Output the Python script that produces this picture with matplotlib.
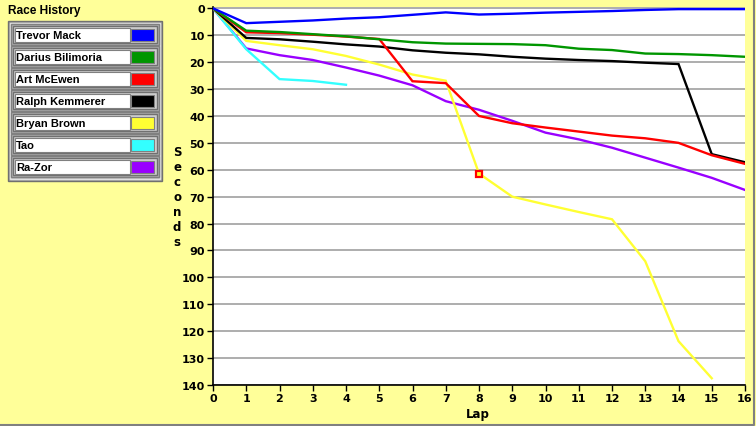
import matplotlib.pyplot as plt
from matplotlib.patches import Rectangle

laps = list(range(17))

drivers = ['Trevor Mack', 'Darius Bilimoria', 'Art McEwen', 'Ralph Kemmerer',
           'Bryan Brown', 'Tao', 'Ra-Zor']
colors = ['#0000FF', '#009600', '#FF0000', '#000000', '#FFFF33', '#33FFFF', '#9900FF']

trevor = [0, 5.5, 5.0, 4.5, 3.8, 3.3, 2.4, 1.5, 2.3, 2.0, 1.6, 1.3, 1.0, 0.6, 0.3, 0.3, 0.3]
darius = [0, 8.3, 8.8, 9.6, 10.4, 11.5, 12.6, 13.1, 13.2, 13.3, 13.7, 15.0, 15.5, 16.8, 17.0, 17.4, 18.0]
art = [0, 8.9, 9.2, 9.8, 10.5, 11.4, 27.1, 27.8, 40.0, 42.7, 44.3, 45.8, 47.3, 48.3, 50.0, 54.6, 57.8]
ralph = [0, 11.0, 11.5, 12.4, 13.4, 14.2, 15.6, 16.5, 17.1, 18.0, 18.7, 19.2, 19.6, 20.2, 20.7, 54.2, 57.2]
bryan = [0, 12.1, 13.7, 15.2, 17.7, 20.9, 24.6, 26.9, 61.4, 70.0, 72.9, 75.7, 78.4, 94.0, 123.7, 137.5]
tao = [0, 15.2, 26.3, 27.0, 28.4]
razor = [0, 14.9, 17.4, 19.2, 22.0, 25.0, 28.6, 34.5, 37.7, 41.8, 46.2, 48.7, 51.8, 55.5, 59.2, 63.0, 67.5]

series = [trevor, darius, art, ralph, bryan, tao, razor]
marked_lap = 8

yticks = list(range(0, 141, 10))

bg = '#FFFF99'
W, H = 756, 427
fig = plt.figure(figsize=(W / 100, H / 100), dpi=100, facecolor=bg)

ax = fig.add_axes([213 / W, (H - 386) / H, (745 - 213) / W, (386 - 8) / H])
ax.set_facecolor('white')
for s in ['top', 'right']:
    ax.spines[s].set_visible(False)
for s in ['left', 'bottom']:
    ax.spines[s].set_color('black')
    ax.spines[s].set_linewidth(1.2)

for yv in yticks:
    ax.axhline(yv, color='#A0A0A0', lw=1.2, zorder=1)

# draw back to front so the overlaps look like the original
order = [6, 5, 4, 3, 2, 1, 0]
for i in order:
    vals = series[i]
    ax.plot(laps[:len(vals)], vals, color=colors[i], lw=1.7, zorder=3 + (6 - i) * 0.1,
            solid_joinstyle='miter')

ax.plot([marked_lap], [bryan[marked_lap]], marker='s', ms=5, mfc='#FFFF33', mec='#FF0000',
        mew=1.6, zorder=5, ls='none')

ax.set_xlim(0, 16)
ax.set_ylim(140, -0.5)
ax.set_xticks(laps)
ax.set_yticks(yticks)
ax.tick_params(axis='both', direction='out', length=4.5, width=1, color='black',
               labelsize=8, pad=1.5)
for lab in ax.get_xticklabels() + ax.get_yticklabels():
    lab.set_fontweight('bold')
    lab.set_family('DejaVu Sans')

# overlay in pixel coordinates for labels and legend panel
ov = fig.add_axes([0, 0, 1, 1], zorder=-1)
ov.set_xlim(0, W)
ov.set_ylim(H, 0)
ov.axis('off')

ov.text(478, 415, 'Lap', ha='center', va='center', fontsize=8.5, fontweight='bold',
        family='DejaVu Sans')
ov.text(177, 198, '\n'.join('Seconds'), ha='center', va='center', fontsize=8.5,
        fontweight='bold', family='DejaVu Sans', linespacing=1.2, multialignment='center')

ov.text(8, 11, 'Race History', ha='left', va='center', fontsize=8.6, fontweight='bold',
        family='Liberation Sans')

ov.add_patch(Rectangle((8, 22), 154, 160, facecolor='#A0A0A0', edgecolor='#707070', lw=1))
ov.add_patch(Rectangle((10, 24), 150, 156, facecolor='#C0C0C0', edgecolor='#E0E0E0', lw=1))
for i, name in enumerate(drivers):
    y0 = 25 + 22 * i
    ov.add_patch(Rectangle((11, y0), 148, 21, facecolor='#B0B0B0', edgecolor='#808080', lw=1))
    ov.add_patch(Rectangle((13, y0 + 2), 144, 17, facecolor='#D0D0D0', edgecolor='#707070', lw=1))
    ov.add_patch(Rectangle((15, y0 + 4), 114.5, 13.5, facecolor='white', edgecolor='#808080', lw=0.8))
    ov.add_patch(Rectangle((131, y0 + 5), 23, 12, facecolor=colors[i], edgecolor='#808080', lw=0.8))
    ov.text(16, y0 + 11, name, ha='left', va='center', fontsize=8, fontweight='bold',
            family='Liberation Sans')

# window frame on right and bottom
ov.plot([754, 754, 0], [0, 425.5, 425.5], color='#808080', lw=1.5)

fig.savefig('out.png', dpi=100, facecolor=bg)
